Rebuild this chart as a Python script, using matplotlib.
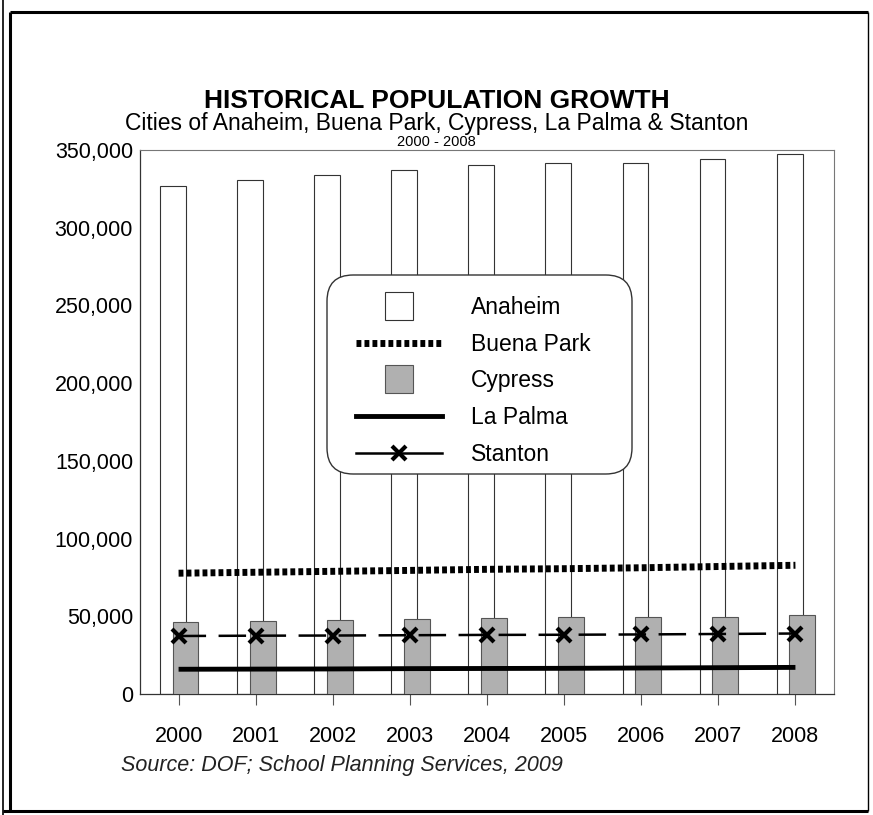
import numpy as np
import matplotlib
matplotlib.use("Agg")
from matplotlib import pyplot as plt
from matplotlib.lines import Line2D
from matplotlib.patches import FancyBboxPatch
from matplotlib.ticker import FuncFormatter

plt.rcParams['font.family'] = ['Liberation Sans', 'DejaVu Sans']

# Population by year
years = ['2000', '2001', '2002', '2003', '2004', '2005', '2006', '2007', '2008']
anaheim = [327000, 330700, 333900, 337100, 340400, 341600, 341600, 344200, 347400]
buena_park = [77700, 78300, 78900, 79500, 80200, 80600, 81200, 82000, 82800]
cypress = [46500, 47200, 47600, 48000, 48700, 49300, 49300, 49700, 50800]
la_palma = [15900, 16000, 16100, 16300, 16400, 16500, 16700, 16900, 17100]
stanton = [37300, 37500, 37600, 37800, 38000, 38100, 38300, 38600, 38900]

W, H = 873, 815
x = np.arange(len(years))
w = 0.335

fig = plt.figure(figsize=(W / 100, H / 100), dpi=100)
ax = fig.add_axes([0.1604, 0.1485, 0.7949, 0.6675])

ax.bar(x - 0.075, anaheim, width=w, facecolor='white', edgecolor='#333333', linewidth=0.8, zorder=2)
ax.bar(x + 0.09, cypress, width=w, facecolor='#b0b0b0', edgecolor='#555555', linewidth=0.8, zorder=3)
ax.plot(x, buena_park, color='black', lw=5, linestyle=(0, (0.7, 0.45)), zorder=4)
ax.plot(x, la_palma, color='black', lw=3.5, solid_capstyle='butt', zorder=4)
ax.plot(x, stanton, color='black', lw=1.8, linestyle=(0, (11, 5)),
        marker='x', markersize=10, markeredgewidth=3, zorder=5)

ax.set_xlim(-0.5, len(years) - 0.5)
ax.set_ylim(0, 350000)
ax.set_yticks(np.arange(0, 350001, 50000))
ax.yaxis.set_major_formatter(FuncFormatter(lambda v, p: f'{int(v):,}'))
ax.set_xticks(x)
ax.set_xticklabels(years)
ax.tick_params(axis='both', labelsize=15.5, color='#555555')
ax.tick_params(axis='x', length=8, width=0.8, direction='out', pad=15)
ax.tick_params(axis='y', length=0, pad=5)
for s in ['top', 'right']:
    ax.spines[s].set_color('#777777')
    ax.spines[s].set_linewidth(0.8)
for s in ['left', 'bottom']:
    ax.spines[s].set_color('#333333')
    ax.spines[s].set_linewidth(0.9)

# legend: entries without frame, rounded box drawn separately
handles = [
    Line2D([], [], marker='s', markersize=20, markerfacecolor='white',
           markeredgecolor='#333333', markeredgewidth=0.8, linestyle='none'),
    Line2D([], [], color='black', lw=5, linestyle=(0, (0.7, 0.45))),
    Line2D([], [], marker='s', markersize=20, markerfacecolor='#b0b0b0',
           markeredgecolor='#555555', markeredgewidth=0.8, linestyle='none'),
    Line2D([], [], color='black', lw=3.5),
    Line2D([], [], color='black', lw=1.8, marker='x', markersize=10, markeredgewidth=3),
]
labels = ['Anaheim', 'Buena Park', 'Cypress', 'La Palma', 'Stanton']
leg = ax.legend(handles, labels, loc='upper left', bbox_to_anchor=(356 / W, 1 - 296 / H),
                bbox_transform=fig.transFigure, fontsize=16.5, frameon=False,
                handlelength=3.75, handletextpad=1.25, labelspacing=0.6,
                borderpad=0, borderaxespad=0, numpoints=1)
leg.set_zorder(11)
box = FancyBboxPatch((327 / W, 1 - 474 / H), 305 / W, 199 / H,
                     boxstyle='round,pad=0,rounding_size=0.03', transform=fig.transFigure,
                     facecolor='white', edgecolor='#333333', linewidth=1.0, zorder=10,
                     mutation_aspect=W / H)
ax.add_artist(box)

# titles
fig.text(0.5, 1 - 101 / H, 'HISTORICAL POPULATION GROWTH', ha='center', va='center',
         fontsize=19, fontweight='bold')
fig.text(0.5, 1 - 123.5 / H, 'Cities of Anaheim, Buena Park, Cypress, La Palma & Stanton',
         ha='center', va='center', fontsize=16.5)
fig.text(0.5, 1 - 142 / H, '2000 - 2008', ha='center', va='center', fontsize=10.5)
fig.text(0.139, 0.061, 'Source: DOF; School Planning Services, 2009', ha='left',
         va='center', fontsize=15.5, style='italic', color='#222222')

# page frame: double rule on the left, heavy top and bottom
frame = dict(transform=fig.transFigure, color='black', solid_capstyle='butt')
fig.add_artist(Line2D([3 / W, 3 / W], [0, 1], lw=1.2, **frame))
fig.add_artist(Line2D([10 / W, 10 / W], [4 / H, 1 - 12 / H], lw=2.2, **frame))
fig.add_artist(Line2D([10 / W, 868 / W], [1 - 12 / H, 1 - 12 / H], lw=2.2, **frame))
fig.add_artist(Line2D([3 / W, 868 / W], [4 / H, 4 / H], lw=2.2, **frame))
fig.add_artist(Line2D([868 / W, 868 / W], [4 / H, 1 - 12 / H], lw=1.0, **frame))

fig.savefig('out.png', dpi=100)
